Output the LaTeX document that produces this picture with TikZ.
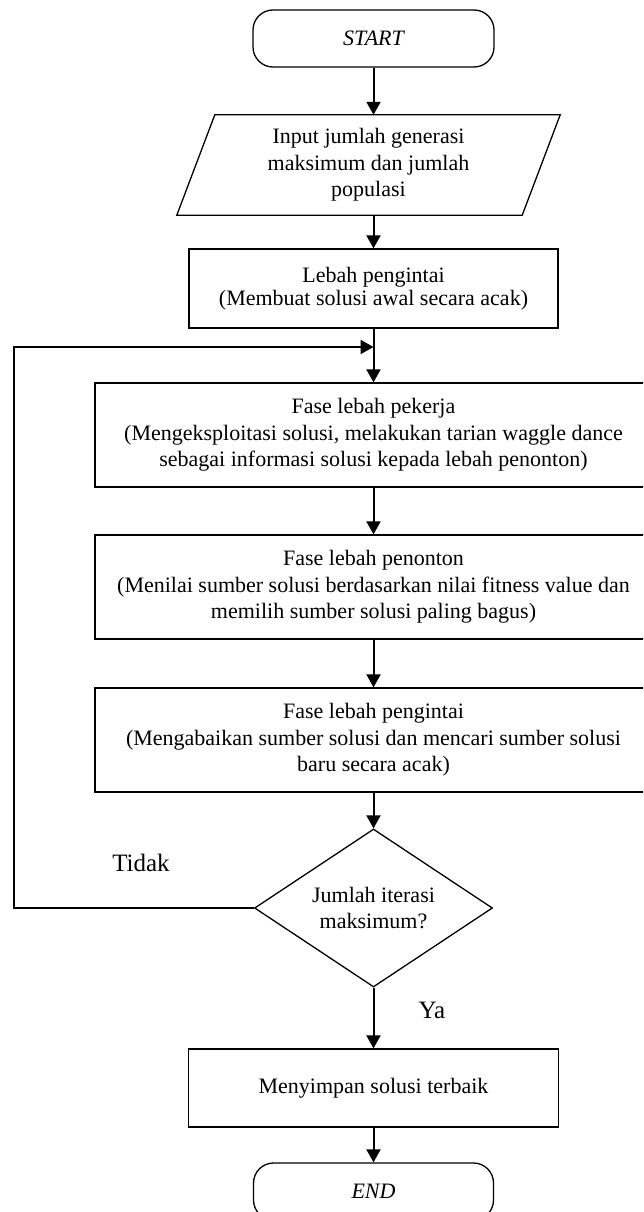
\documentclass[tikz,border=0pt]{standalone}
\usepackage{fontspec}
\setmainfont{Liberation Serif}
\usetikzlibrary{arrows.meta,shapes.geometric}
\begin{document}
\begin{tikzpicture}[x=1pt,y=-1pt,
  box/.style={draw,line width=1.3pt,inner sep=0pt,align=center,
    font=\fontsize{22}{26.5}\selectfont},
  plain/.style={inner sep=0pt,align=center,font=\fontsize{22}{26.5}\selectfont},
  term/.style={box,rounded corners=20pt,font=\fontsize{22}{26.5}\selectfont\itshape},
  flow/.style={line width=2pt,-{Triangle[length=13pt,width=14pt]}},
  lbl/.style={inner sep=0pt,font=\fontsize{25}{30}\selectfont}]
\useasboundingbox (0,0) rectangle (643,1212);
\clip (0,0) rectangle (643,1212);

% terminals, process boxes and decision
\node[term,minimum width=241pt,minimum height=57pt] (start) at (373.5,38.5) {START};
\node[plain,minimum width=345pt,minimum height=100pt] (input) at (368.5,165)
  {Input jumlah generasi\\maksimum dan jumlah\\populasi};
\draw[line width=1.3pt] ([xshift=19pt]input.north west) -- ([xshift=19pt]input.north east)
  -- ([xshift=-19pt]input.south east) -- ([xshift=-19pt]input.south west) -- cycle;
\node[box,minimum width=369pt,minimum height=79pt,font=\fontsize{22}{23.5}\selectfont]
  (lebah) at (373.5,288.5) {Lebah pengintai\\(Membuat solusi awal secara acak)};
\node[box,minimum width=557pt,minimum height=104pt] (pekerja) at (373.5,435)
  {Fase lebah pekerja\\(Mengeksploitasi solusi, melakukan tarian waggle dance\\sebagai informasi solusi kepada lebah penonton)};
\node[box,minimum width=557pt,minimum height=104pt] (penonton) at (373.5,587)
  {Fase lebah penonton\\(Menilai sumber solusi berdasarkan nilai fitness value dan\\memilih sumber solusi paling bagus)};
\node[box,minimum width=557pt,minimum height=104pt] (fase) at (373.5,740)
  {Fase lebah pengintai\\(Mengabaikan sumber solusi dan mencari sumber solusi\\baru secara acak)};
\node[box,shape=diamond,aspect=1.5,minimum width=238pt,minimum height=158pt] (cond) at (373.5,908)
  {Jumlah iterasi\\maksimum?};
\node[box,minimum width=370pt,minimum height=78pt] (simpan) at (373.5,1088)
  {Menyimpan solusi terbaik};
\node[term,minimum width=240pt,minimum height=57pt] (stop) at (373.5,1191.5) {END};

% branch labels
\node[lbl] (tidak) at (141,863) {Tidak};
\node[lbl] (ya) at (432,1010) {Ya};

% connectors
\coordinate (join) at (373.5,347);
\coordinate (loopx) at (14,908);
\draw[flow] (start.south) -- (start.south |- input.north);
\draw[flow] (lebah.north |- input.south) -- (lebah.north);
\draw[flow] (lebah.south) -- (pekerja.north);
\draw[flow] (cond.west) -- (loopx) |- (join);
\draw[flow] (pekerja.south) -- (penonton.north);
\draw[flow] (penonton.south) -- (fase.north);
\draw[flow] (fase.south) -- (cond.north);
\draw[flow] (cond.south) -- (simpan.north);
\draw[flow] (simpan.south) -- (stop.north);
\end{tikzpicture}
\end{document}
